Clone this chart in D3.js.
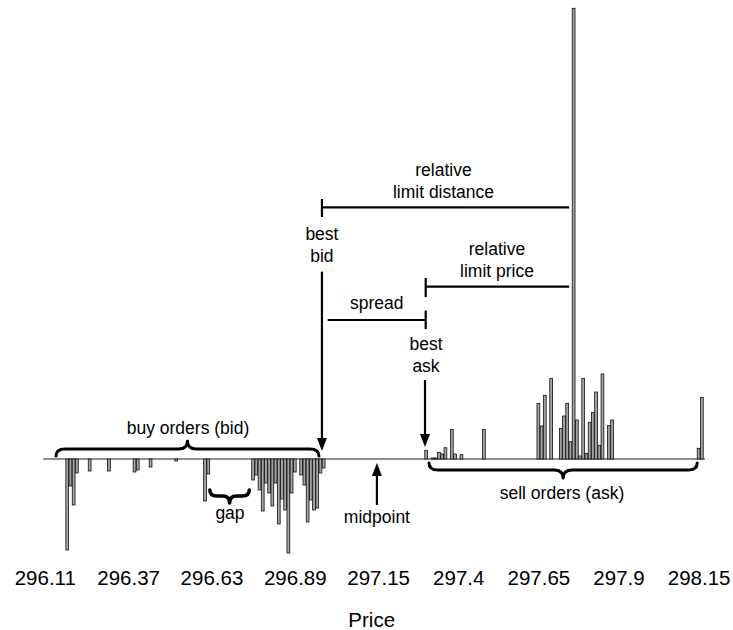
<!DOCTYPE html>
<html>
<head>
<meta charset="utf-8">
<script src="https://cdn.jsdelivr.net/npm/d3@7"></script>
<style>
  html, body { margin: 0; padding: 0; background: #fff; }
  svg { display: block; }
  text { font-family: "Liberation Sans", Arial, Helvetica, sans-serif; fill: #000; }
</style>
</head>
<body>
<svg id="chart" width="733" height="630"></svg>
<script>
// ---- data ----
const bidPrices  = [296.18, 296.19, 296.20, 296.21, 296.25, 296.31, 296.39, 296.40, 296.44, 296.52,
                    296.61, 296.62,
                    296.76, 296.77, 296.78, 296.79, 296.80, 296.81, 296.82, 296.83, 296.84, 296.85,
                    296.86, 296.87, 296.88, 296.89,
                    296.91, 296.92, 296.93, 296.94, 296.95, 296.96, 296.97, 296.98];
const bidVolumes = [91, 27, 46, 14, 12, 12, 13, 11, 8, 2,
                    42, 15,
                    21, 16, 31, 52, 24, 34, 47, 24, 65, 40,
                    51, 94, 34, 13,
                    16, 26, 63, 41, 51, 49, 14, 9];
const askPrices  = [297.30, 297.32, 297.33, 297.34, 297.35, 297.36, 297.38, 297.39, 297.41, 297.48,
                    297.65, 297.66, 297.67, 297.69, 297.72, 297.73, 297.74, 297.75, 297.76, 297.77,
                    297.78, 297.79, 297.80, 297.81, 297.82, 297.83, 297.84, 297.85, 297.87, 297.88,
                    298.15, 298.16];
const askVolumes = [8.7, 1, 1, 6.7, 5, 11.3, 29.7, 5, 4.3, 29.7,
                    55.7, 33, 63.7, 80.7, 30.7, 43, 55.7, 17.3, 450.7, 39,
                    3, 80.7, 5.7, 36.7, 46.3, 67, 13.7, 85, 33.3, 39,
                    10.7, 61.7];
const tickValues = [296.11, 296.37, 296.63, 296.89, 297.15, 297.4, 297.65, 297.9, 298.15];
const tickLabels = ["296.11", "296.37", "296.63", "296.89", "297.15", "297.4", "297.65", "297.9", "298.15"];
const axisTitle = "Price";

// ---- scales ----
const svg = d3.select("#chart");
const x = d3.scaleLinear().domain([296.11, 298.15]).range([44.8, 44.8 + 2.04 * 320.5]);
const y = d3.scaleLinear().domain([-100, 450]).range([559, 9]);
const barW = 2.8;

const bids = bidPrices.map((p, i) => ({p, v: bidVolumes[i]}));
const asks = askPrices.map((p, i) => ({p, v: askVolumes[i]}));

// ---- baseline ----
svg.append("line")
  .attr("x1", x(296.105)).attr("x2", x(298.17))
  .attr("y1", y(0)).attr("y2", y(0))
  .attr("stroke", "#222").attr("stroke-width", 1);

// ---- bars ----
const barStyle = sel => sel.attr("fill", "#a3a3a3").attr("stroke", "#111").attr("stroke-width", 0.8);
svg.append("g").selectAll("rect").data(bids).join("rect")
  .attr("x", d => x(d.p) - barW / 2).attr("width", barW)
  .attr("y", y(0)).attr("height", d => y(-d.v) - y(0))
  .call(barStyle);
svg.append("g").selectAll("rect").data(asks).join("rect")
  .attr("x", d => x(d.p) - barW / 2).attr("width", barW)
  .attr("y", d => y(d.v)).attr("height", d => y(0) - y(d.v))
  .call(barStyle);

// ---- axis ----
const axis = d3.axisBottom(x).tickValues(tickValues).tickSize(0)
  .tickFormat((d, i) => tickLabels[i]);
const gAxis = svg.append("g").call(axis);
gAxis.select(".domain").remove();
gAxis.selectAll("text").attr("y", 584.5).attr("dy", 0)
  .style("font-size", "20.5px").style("font-family", '"Liberation Sans", Arial, sans-serif').attr("fill", "#000");
svg.append("text").attr("x", x(297.13)).attr("y", 627).attr("text-anchor", "middle")
  .style("font-size", "20.5px").text(axisTitle);

// ---- annotations ----
const ann = svg.append("g");
const fs = "17.5px";
function label(lines, cx, baselines) {
  lines.forEach((t, i) => {
    ann.append("text").attr("x", cx).attr("y", baselines[i]).attr("text-anchor", "middle")
      .style("font-size", fs).text(t);
  });
}
function line(x1, y1, x2, y2, w = 2.2) {
  ann.append("line").attr("x1", x1).attr("y1", y1).attr("x2", x2).attr("y2", y2)
    .attr("stroke", "#000").attr("stroke-width", w);
}
function arrowHead(xt, yt, dir) { // dir = +1 pointing down, -1 pointing up
  const L = 13, hw = 5;
  ann.append("path")
    .attr("d", `M${xt},${yt} L${xt - hw},${yt - dir * L} L${xt + hw},${yt - dir * L} Z`)
    .attr("fill", "#000");
}
function hBrace(x1, x2, yl, endDy, cuspDy, r, w = 3) {
  const xm = (x1 + x2) / 2;
  const d = `M${x1},${yl + endDy} Q${x1},${yl} ${x1 + r},${yl} L${xm - r},${yl} Q${xm},${yl} ${xm},${yl + cuspDy}` +
            ` Q${xm},${yl} ${xm + r},${yl} L${x2 - r},${yl} Q${x2},${yl} ${x2},${yl + endDy}`;
  ann.append("path").attr("d", d).attr("fill", "none").attr("stroke", "#000")
    .attr("stroke-width", w).attr("stroke-linecap", "round").attr("stroke-linejoin", "round");
}

const bestBid = d3.max(bidPrices), bestAsk = d3.min(askPrices);
const bigAsk = asks.reduce((a, b) => (b.v > a.v ? b : a));
const xBid = x(bestBid) - 1.7, xAsk = x(bestAsk) - 1.2, xBig = x(bigAsk.p) - 4.5;
const xMid = x((bestBid + bestAsk) / 2) + 2;

// relative limit distance
label(["relative", "limit distance"], 443.5, [175.7, 198.3]);
line(xBid, 207.3, xBig, 207.3);
line(xBid, 199, xBid, 217);

// best bid
label(["best", "bid"], xBid, [240, 262]);
line(xBid, 271.7, xBid, 440);
arrowHead(xBid, 451, 1);

// relative limit price
label(["relative", "limit price"], 497, [255, 277]);
line(xAsk + 0.7, 286.7, xBig, 286.7);
line(xAsk + 0.7, 278, xAsk + 0.7, 297);

// spread
label(["spread"], 376.7, [309]);
line(327.7, 320, xAsk + 0.7, 320);
line(xAsk + 0.7, 310.5, xAsk + 0.7, 329);

// best ask
label(["best", "ask"], xAsk + 1, [350, 372]);
line(xAsk, 380, xAsk, 437);
arrowHead(xAsk, 447, 1);

// buy orders brace
hBrace(x(296.145), xBid - 3, 449, 7, -8, 9);
label(["buy orders (bid)"], 188, [434]);

// gap brace
hBrace(x(296.625), x(296.748), 496, -6, 7, 7, 3.6);
label(["gap"], 230, [519]);

// midpoint
arrowHead(xMid, 463, -1);
line(xMid, 474, xMid, 505);
label(["midpoint"], xMid, [523]);

// sell orders brace
hBrace(xAsk + 4, x(298.155) - 3, 470, -7, 8, 9);
label(["sell orders (ask)"], 562, [499]);
</script>
</body>
</html>
